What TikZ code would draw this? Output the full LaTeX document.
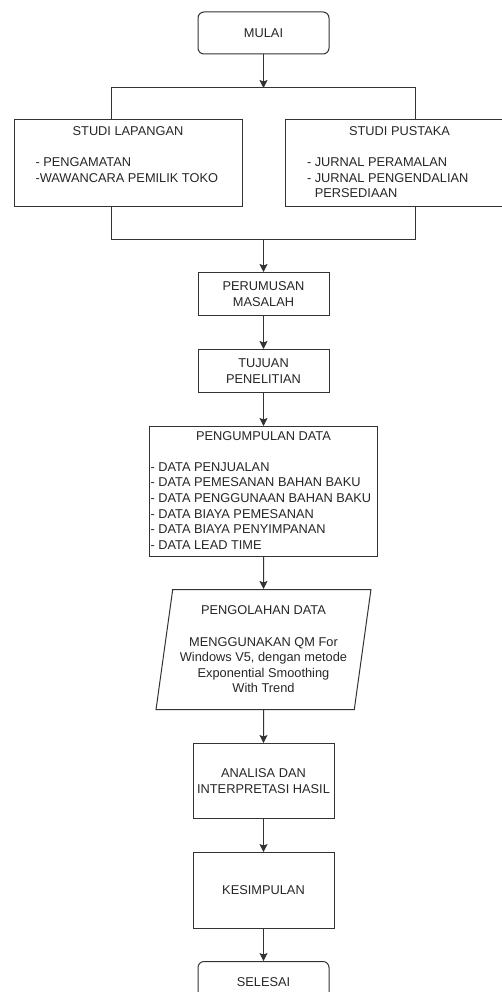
\documentclass[tikz,border=0pt]{standalone}
\usepackage{fontspec}
\setmainfont{Liberation Sans}
\usetikzlibrary{arrows.meta,positioning,shapes.geometric}

\begin{document}
\begin{tikzpicture}[
  x=1pt, y=-1pt,
  box/.style={draw=black!80, line width=1pt, align=center, inner sep=0pt, font=\fontsize{12.8}{15.6}\selectfont, text=black!85},
  terminal/.style={box, rounded corners=6pt, minimum width=131pt, minimum height=42pt},
  stepbox/.style={box, minimum width=131pt, minimum height=43pt},
  studybox/.style={box, minimum width=228pt, minimum height=87pt},
  iobox/.style={box, trapezium, trapezium left angle=80, trapezium right angle=100, trapezium stretches=true, minimum width=215pt, minimum height=120pt},
  conn/.style={draw=black!80, line width=1pt},
  arr/.style={conn, -{Stealth[length=8pt, width=8pt, inset=1.5pt]}}
]
\useasboundingbox (0,0) rectangle (502,992);

\node[terminal] (mulai) at (263.5,33) {MULAI};
\coordinate (split) at (263.5,88);
\coordinate (splitL) at (111,88);
\coordinate (splitR) at (415,88);
\draw[arr] (mulai) -- (split);

\node[studybox] (lapangan) at (128,163.5) {\begin{tabular}{@{}l@{}}\makebox[185pt]{STUDI LAPANGAN}\\ \\ - PENGAMATAN\\ -WAWANCARA PEMILIK TOKO\\ \\ \end{tabular}};
\node[studybox, minimum width=229pt] (pustaka) at (399.5,163.5) {\begin{tabular}{@{}l@{}}\makebox[185pt]{STUDI PUSTAKA}\\ \\ - JURNAL PERAMALAN\\ - JURNAL PENGENDALIAN\\ \hphantom{- }PERSEDIAAN\end{tabular}};
\draw[conn] (lapangan.north -| splitL) |- (splitR) -- (pustaka.north -| splitR);

\coordinate (join) at (263.5,239);
\coordinate (joinL) at (111,239);
\coordinate (joinR) at (415,239);
\draw[conn] (lapangan.south -| joinL) |- (joinR) -- (pustaka.south -| joinR);

\node[stepbox, below=33pt of join] (perumusan) {PERUMUSAN\\MASALAH};
\node[stepbox, below=33pt of perumusan] (tujuan) {TUJUAN\\PENELITIAN};
\node[box, minimum width=228pt, minimum height=130pt, below=33pt of tujuan] (pengumpulan) {\begin{tabular}{@{}l@{}}\makebox[226pt]{PENGUMPULAN DATA}\\ \\ - DATA PENJUALAN\\ - DATA PEMESANAN BAHAN BAKU\\ - DATA PENGGUNAAN BAHAN BAKU\\ - DATA BIAYA PEMESANAN\\ - DATA BIAYA PENYIMPANAN\\ - DATA LEAD TIME\end{tabular}};
\node[iobox, below=32pt of pengumpulan] (pengolahan) {PENGOLAHAN DATA\\ ~\\ MENGGUNAKAN QM For\\ Windows V5, dengan metode\\ Exponential Smoothing\\ With Trend};
\node[stepbox, minimum width=141pt, minimum height=75pt, below=33pt of pengolahan] (analisa) {ANALISA DAN\\INTERPRETASI HASIL};
\node[stepbox, minimum width=141pt, minimum height=76pt, below=33pt of analisa] (kesimpulan) {KESIMPULAN};
\node[terminal, below=32pt of kesimpulan] (selesai) {SELESAI};

\draw[arr] (join) -- (perumusan);
\draw[arr] (perumusan) -- (tujuan);
\draw[arr] (tujuan) -- (pengumpulan);
\draw[arr] (pengumpulan) -- (pengolahan);
\draw[arr] (pengolahan) -- (analisa);
\draw[arr] (analisa) -- (kesimpulan);
\draw[arr] (kesimpulan) -- (selesai);

\end{tikzpicture}
\end{document}
